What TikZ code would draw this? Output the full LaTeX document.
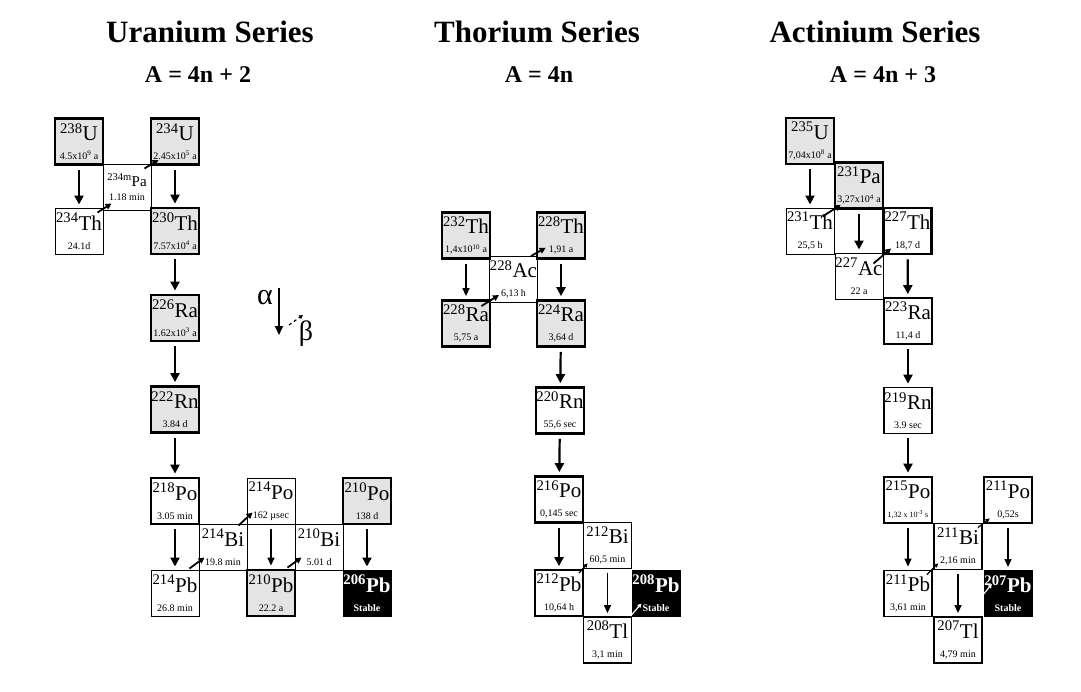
\documentclass[tikz,border=0pt]{standalone}
\usepackage{fontspec}
\setmainfont{Liberation Serif}
\usepackage{xcolor}
\usepackage{tikz}
\usetikzlibrary{arrows.meta}
\definecolor{kastengrau}{RGB}{228,228,228}
\newcommand{\nucl}[2]{\textsuperscript{#1}#2}
\newcommand{\hlife}[1]{{\fontsize{10}{10}\selectfont #1}}

\begin{document}
\begin{tikzpicture}[x=1pt, y=-1pt,
    kasten/.style={draw, minimum width=48pt, minimum height=46pt, inner sep=0pt, align=center, font=\fontsize{21}{19}\selectfont},
    duenn/.style={kasten, line width=1pt},
    mittel/.style={kasten, line width=1.8pt},
    dick/.style={kasten, line width=2.8pt},
    grau/.style={fill=kastengrau},
    stabil/.style={kasten, line width=1pt, fill=black, text=white, font=\bfseries\fontsize{21}{19}\selectfont},
    alphapfeil/.style={-{Triangle[length=9pt,width=9pt]}, line width=2.2pt, shorten <=4pt, shorten >=3pt},
    alphaduenn/.style={alphapfeil, line width=1.3pt, -{Triangle[length=8pt,width=7pt]}},
    betapfeil/.style={-{Triangle[length=6pt,width=6pt]}, line width=1.8pt},
    betaklein/.style={-{Triangle[length=4pt,width=4pt]}, line width=1.2pt},
    titel/.style={font=\bfseries\fontsize{31}{31}\selectfont},
    formel/.style={font=\bfseries\fontsize{24}{24}\selectfont}]

    \useasboundingbox (0,0) rectangle (1081,691);

    % Ueberschriften
    \node[titel] (tUran) at (210,32) {Uranium Series};
    \node[formel] (fUran) at (198,75) {A = 4n + 2};
    \node[titel] (tThor) at (537,32) {Thorium Series};
    \node[formel] (fThor) at (539,75) {A = 4n};
    \node[titel] (tAct) at (875,32) {Actinium Series};
    \node[formel] (fAct) at (883,75) {A = 4n + 3};

    % --- Uran-Reihe ---
    \node[duenn, font=\fontsize{15}{14}\selectfont] (Pa234) at (127,187) {\nucl{234m}{Pa}\\\hlife{1.18 min}};
    \node[duenn] (Th234) at (79,231) {\nucl{234}{Th}\\\hlife{24.1d}};
    \node[duenn] (Bi214) at (223,547) {\nucl{214}{Bi}\\\hlife{19.8 min}};
    \node[duenn] (Po214) at (271,501) {\nucl{214}{Po}\\\hlife{162 µsec}};
    \node[duenn] (Pb214) at (175,593) {\nucl{214}{Pb}\\\hlife{26.8 min}};
    \node[duenn] (Bi210) at (319,547) {\nucl{210}{Bi}\\\hlife{5.01 d}};
    \node[dick, grau] (U238) at (79,141.5) {\nucl{238}{U}\\\hlife{4.5x10\textsuperscript{9} a}};
    \node[dick, grau] (U234) at (175,141.5) {\nucl{234}{U}\\\hlife{2.45x10\textsuperscript{5} a}};
    \node[dick, grau] (Th230) at (175,231) {\nucl{230}{Th}\\\hlife{7.57x10\textsuperscript{4} a}};
    \node[dick, grau] (Ra226) at (175,318) {\nucl{226}{Ra}\\\hlife{1.62x10\textsuperscript{3} a}};
    \node[dick, grau] (Rn222) at (175,409.5) {\nucl{222}{Rn}\\\hlife{3.84 d}};
    \node[dick] (Po218) at (175,501) {\nucl{218}{Po}\\\hlife{3.05 min}};
    \node[dick, grau] (Pb210) at (271,593) {\nucl{210}{Pb}\\\hlife{22.2 a}};
    \node[dick, grau] (Po210) at (367,501) {\nucl{210}{Po}\\\hlife{138 d}};
    \node[stabil] (Pb206) at (367,593) {\nucl{206}{Pb}\\\hlife{Stable}};

    \draw[alphapfeil] (U238) -- (Th234);
    \draw[alphapfeil] (U234) -- (Th230);
    \draw[alphapfeil] (Th230) -- (Ra226);
    \draw[alphapfeil] (Ra226) -- (Rn222);
    \draw[alphapfeil] (Rn222) -- (Po218);
    \draw[alphapfeil] (Po218) -- (Pb214);
    \draw[alphaduenn] (Po214) -- (Pb210);
    \draw[alphapfeil] (Po210) -- (Pb206);

    \draw[betapfeil] ([shift={(-6,5)}]Th234.north east) -- ([shift={(9,-7)}]Pa234.south west);
    \draw[betapfeil] ([shift={(-7,5)}]Pa234.north east) -- ([shift={(9,-6)}]U234.south west);
    \draw[betapfeil] ([shift={(-10,-1)}]Pb214.north east) -- ([shift={(6,-13)}]Bi214.south west);
    \draw[betapfeil] ([shift={(-9,2)}]Bi214.north east) -- ([shift={(6,-12)}]Po214.south west);
    \draw[betapfeil] ([shift={(-9,-1)}]Pb210.north east) -- ([shift={(7,-13)}]Bi210.south west);

    % Legende
    \node[font=\fontsize{30}{30}\selectfont] (lalpha) at (265,298) {α};
    \node[font=\fontsize{28}{28}\selectfont] (lbeta) at (306,334) {β};
    \coordinate (la1) at (279,288);
    \coordinate (la2) at (279,335);
    \coordinate (lb1) at (289,325);
    \coordinate (lb2) at (303,315);
    \draw[-{Triangle[length=9pt,width=8pt]}, line width=1.8pt] (la1) -- (la2);
    \draw[betaklein, dashed] (lb1) -- (lb2);

    % --- Thorium-Reihe ---
    \node[duenn] (Ac228) at (513.5,279.5) {\nucl{228}{Ac}\\\hlife{6,13 h}};
    \node[mittel] (Bi212) at (607.5,545.5) {\nucl{212}{Bi}\\\hlife{60,5 min}};
    \node[mittel] (Pb212) at (559,593) {\nucl{212}{Pb}\\\hlife{10,64 h}};
    \node[mittel] (Tl208) at (607.5,640) {\nucl{208}{Tl}\\\hlife{3,1 min}};
    \node[dick, grau] (Th232) at (466,235.5) {\nucl{232}{Th}\\\hlife{1,4x10\textsuperscript{10} a}};
    \node[dick, grau] (Th228) at (561,235.5) {\nucl{228}{Th}\\\hlife{1,91 a}};
    \node[dick, grau] (Ra228) at (466,323.5) {\nucl{228}{Ra}\\\hlife{5,75 a}};
    \node[dick, grau] (Ra224) at (561,323.5) {\nucl{224}{Ra}\\\hlife{3,64 d}};
    \node[dick] (Rn220) at (560,410.5) {\nucl{220}{Rn}\\\hlife{55,6 sec}};
    \node[dick] (Po216) at (559,499.5) {\nucl{216}{Po}\\\hlife{0,145 sec}};
    \node[stabil] (Pb208) at (656,593) {\nucl{208}{Pb}\\\hlife{Stable}};

    \draw[alphaduenn] (Th232) -- (Ra228);
    \draw[alphapfeil] (Th228) -- (Ra224);
    \draw[alphapfeil] (Ra224) -- (Rn220);
    \draw[alphapfeil] (Rn220) -- (Po216);
    \draw[alphapfeil] (Po216) -- (Pb212);
    \draw[alphaduenn] (Bi212) -- (Tl208);

    \draw[betapfeil] ([shift={(-10,7)}]Ra228.north east) -- ([shift={(10,-8)}]Ac228.south west);
    \draw[betapfeil] ([shift={(-7,0)}]Ac228.north east) -- ([shift={(10,-12)}]Th228.south west);
    \draw[betaklein] ([shift={(-5,4)}]Pb212.north east) -- ([shift={(5,-6)}]Bi212.south west);
    \draw[betaklein, white] ([shift={(-2,0)}]Tl208.north east) -- ([shift={(10,-13)}]Pb208.south west);

    % --- Actinium-Reihe ---
    \node[duenn] (Th231) at (810,231) {\nucl{231}{Th}\\\hlife{25,5 h}};
    \node[duenn] (Ac227) at (859,276) {\nucl{227}{Ac}\\\hlife{22 a}};
    \node[mittel] (Ra223) at (908,321) {\nucl{223}{Ra}\\\hlife{11,4 d}};
    \node[mittel] (Rn219) at (908,410.5) {\nucl{219}{Rn}\\\hlife{3.9 sec}};
    \node[mittel] (Bi211) at (958,546.5) {\nucl{211}{Bi}\\\hlife{2,16 min}};
    \node[mittel] (Pb211) at (908,593.5) {\nucl{211}{Pb}\\\hlife{3,61 min}};
    \node[mittel] (Tl207) at (958,640) {\nucl{207}{Tl}\\\hlife{4,79 min}};
    \node[dick, grau] (U235) at (810,141) {\nucl{235}{U}\\\hlife{7,04x10\textsuperscript{8} a}};
    \node[dick, grau] (Pa231) at (859,185.5) {\nucl{231}{Pa}\\\hlife{3,27x10\textsuperscript{4} a}};
    \node[dick] (Th227) at (907.5,231) {\nucl{227}{Th}\\\hlife{18,7 d}};
    \node[dick] (Po215) at (908,500) {\nucl{215}{Po}\\{\fontsize{8}{8}\selectfont 1,32 x 10\textsuperscript{-3} s}};
    \node[dick] (Po211) at (1008,500) {\nucl{211}{Po}\\\hlife{0,52s}};
    \node[stabil] (Pb207) at (1008,593.5) {\nucl{207}{Pb}\\\hlife{Stable}};

    \draw[alphapfeil] (U235) -- (Th231);
    \draw[alphapfeil] (Pa231) -- (Ac227);
    \draw[alphapfeil] (Th227) -- (Ra223);
    \draw[alphapfeil] (Ra223) -- (Rn219);
    \draw[alphapfeil] (Rn219) -- (Po215);
    \draw[alphaduenn] (Po215) -- (Pb211);
    \draw[alphaduenn] (Po211) -- (Pb207);
    \draw[alphaduenn] (Bi211) -- (Tl207);

    \draw[betapfeil] ([shift={(-12,9)}]Th231.north east) -- ([shift={(7,-5)}]Pa231.south west);
    \draw[betapfeil] ([shift={(-10,11)}]Ac227.north east) -- ([shift={(9,-7)}]Th227.south west);
    \draw[betaklein] ([shift={(-6,5)}]Pb211.north east) -- ([shift={(5,-7)}]Bi211.south west);
    \draw[betaklein] ([shift={(-5,5)}]Bi211.north east) -- ([shift={(7,-6)}]Po211.south west);
    \draw[betaklein, white] ([shift={(-1,-20)}]Tl207.north east) -- ([shift={(9,-32)}]Tl207.north east);

\end{tikzpicture}
\end{document}
